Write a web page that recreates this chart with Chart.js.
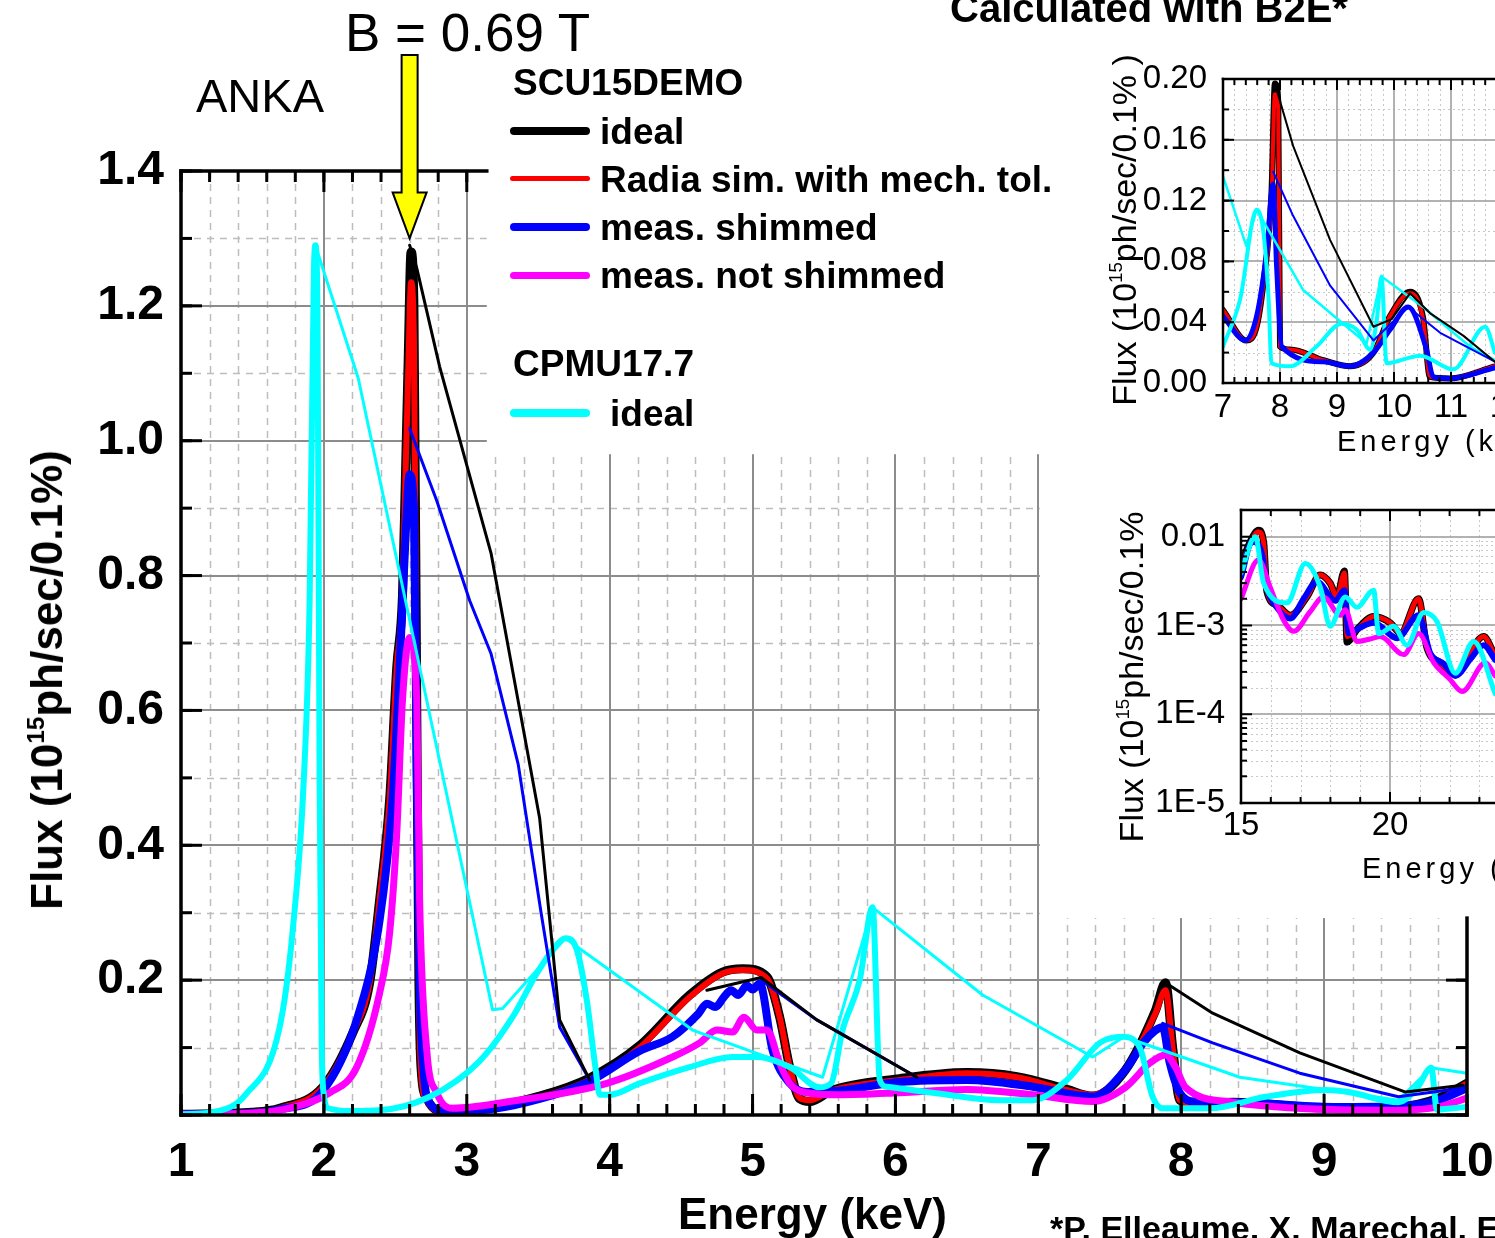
<!DOCTYPE html>
<html>
<head>
<meta charset="utf-8">
<script src="https://cdn.jsdelivr.net/npm/chart.js@4.4.1/dist/chart.umd.min.js"></script>
<style>
  body { margin: 0; background: #fff; overflow: hidden; }
  #wrap { position: relative; width: 1495px; height: 1238px; overflow: hidden; background: #fff;
          font-family: "Liberation Sans", Arial, sans-serif; color: #000; }
  canvas { position: absolute; }
  .t { position: absolute; white-space: nowrap; line-height: 1; }
  .b { font-weight: bold; }
  .lg { position: absolute; white-space: nowrap; line-height: 1; font-weight: bold; font-size: 37px; }
  .sw { position: absolute; left: 510px; width: 80px; }
  .rot { position: absolute; white-space: nowrap; line-height: 1; transform: translate(-50%, -50%) rotate(-90deg); }
  sup { font-size: 0.55em; vertical-align: 0.75em; line-height: 0; }
</style>
</head>
<body>
<div id="wrap">
  <canvas id="main" width="1495" height="1238" style="left:0;top:0"></canvas>
  <canvas id="insetTop" width="540" height="440" style="left:1095px;top:30px"></canvas>
  <canvas id="insetLog" width="600" height="430" style="left:1100px;top:470px"></canvas>

  <div class="t" style="left:345px;top:6px;font-size:53px">B = 0.69 T</div>
  <div class="t" style="left:196px;top:72px;font-size:47px">ANKA</div>
  <div class="t b" style="left:950px;top:-12px;font-size:40px">Calculated with B2E*</div>
  <div class="t b" style="left:1050px;top:1211px;font-size:34px">*P. Elleaume, X. Marechal, ESRF</div>

  <div class="lg" style="left:513px;top:64px">SCU15DEMO</div>
  <div class="sw" style="top:127px;height:8px;border-radius:4px;background:#000"></div>
  <div class="lg" style="left:600px;top:113px">ideal</div>
  <div class="sw" style="top:176px;height:5px;border-radius:3px;background:#ff0000"></div>
  <div class="lg" style="left:600px;top:161px">Radia sim. with mech. tol.</div>
  <div class="sw" style="top:223px;height:8px;border-radius:4px;background:#0000ff"></div>
  <div class="lg" style="left:600px;top:209px">meas. shimmed</div>
  <div class="sw" style="top:272px;height:7px;border-radius:4px;background:#ff00ff"></div>
  <div class="lg" style="left:600px;top:257px">meas. not shimmed</div>
  <div class="lg" style="left:513px;top:345px">CPMU17.7</div>
  <div class="sw" style="top:409px;height:8px;border-radius:4px;background:#00ffff"></div>
  <div class="lg" style="left:610px;top:395px">ideal</div>

  <div class="t b" style="left:678px;top:1192px;font-size:44px">Energy (keV)</div>
  <div class="rot b" style="left:47px;top:680px;font-size:44px">Flux (10<sup>15</sup>ph/sec/0.1%)</div>

  <div class="rot" style="left:1124px;top:230px;font-size:34px">Flux (10<sup>15</sup>ph/sec/0.1% )</div>
  <div class="t" style="left:1337px;top:427px;font-size:29px;letter-spacing:4px">Energy (keV)</div>
  <div class="rot" style="left:1131px;top:677px;font-size:34px">Flux (10<sup>15</sup>ph/sec/0.1%</div>
  <div class="t" style="left:1362px;top:854px;font-size:29px;letter-spacing:4px">Energy (keV)</div>
</div>

<script>
// ---- main panel: 1-10 keV, linear flux ----
const mainXTicks = [1, 2, 3, 4, 5, 6, 7, 8, 9, 10];
const mainYTicks = [0.2, 0.4, 0.6, 0.8, 1.0, 1.2, 1.4];

const scuE = [1.0, 1.5, 1.69, 1.99, 2.2, 2.32, 2.39, 2.46, 2.51, 2.55, 2.57, 2.59, 2.61, 2.63, 2.65,
  2.665, 2.68, 2.72, 2.81, 3.09, 3.51, 3.86, 4.21, 4.56, 4.79, 4.93, 5.1, 5.19, 5.26, 5.33,
  5.4, 5.56, 6.03, 6.5, 6.85, 7.2, 7.38, 7.61, 7.82, 7.89, 7.94, 7.99, 8.1, 8.36, 9.06, 9.52, 9.8, 10];
const scuIdealF = [0.001, 0.004, 0.01, 0.041, 0.121, 0.196, 0.319, 0.467, 0.664, 0.77, 0.94, 1.12, 1.28, 1.2, 0.6,
  0.2, 0.07, 0.025, 0.006, 0.009, 0.028, 0.055, 0.103, 0.178, 0.212, 0.217, 0.205, 0.145, 0.071, 0.024,
  0.02, 0.037, 0.054, 0.063, 0.057, 0.038, 0.028, 0.067, 0.155, 0.196, 0.1, 0.022, 0.016, 0.019, 0.01, 0.012, 0.025, 0.047];
const scuRadiaF = [0.001, 0.004, 0.01, 0.041, 0.121, 0.196, 0.319, 0.467, 0.664, 0.77, 0.94, 1.1, 1.235, 1.15, 0.58,
  0.19, 0.065, 0.022, 0.005, 0.008, 0.026, 0.052, 0.1, 0.175, 0.21, 0.215, 0.203, 0.145, 0.071, 0.025,
  0.022, 0.037, 0.052, 0.062, 0.056, 0.037, 0.03, 0.067, 0.151, 0.185, 0.1, 0.022, 0.016, 0.019, 0.01, 0.012, 0.022, 0.047];

const shimE = [1.0, 1.5, 1.69, 1.99, 2.23, 2.39, 2.48, 2.53, 2.57, 2.6, 2.63, 2.65, 2.67, 2.7, 2.74,
  2.85, 3.09, 3.51, 3.86, 4.21, 4.44, 4.62, 4.68, 4.74, 4.8, 4.85, 4.9, 4.96, 5.0, 5.05,
  5.14, 5.26, 5.38, 5.6, 6.03, 6.5, 6.96, 7.38, 7.61, 7.75, 7.87, 7.92, 7.99, 8.1, 8.36, 9.06, 9.52, 9.8, 10];
const shimF = [0.001, 0.003, 0.008, 0.035, 0.141, 0.289, 0.467, 0.664, 0.85, 0.95, 0.9, 0.5, 0.2, 0.06, 0.018,
  0.006, 0.007, 0.024, 0.05, 0.095, 0.116, 0.15, 0.165, 0.16, 0.175, 0.185, 0.178, 0.192, 0.186, 0.195,
  0.096, 0.047, 0.034, 0.036, 0.049, 0.052, 0.042, 0.027, 0.067, 0.111, 0.13, 0.077, 0.033, 0.02, 0.019, 0.012, 0.013, 0.022, 0.04];

const noShimE = [1.0, 1.5, 1.69, 2.04, 2.23, 2.39, 2.46, 2.51, 2.55, 2.6, 2.65, 2.67, 2.72, 2.79, 2.9,
  3.3, 3.98, 4.44, 4.63, 4.75, 4.86, 4.94, 5.03, 5.1, 5.19, 5.26, 5.38, 5.6, 6.03, 6.5,
  6.96, 7.38, 7.61, 7.78, 7.89, 7.96, 8.03, 8.36, 9.06, 9.52, 9.8, 10];
const noShimF = [0.001, 0.003, 0.007, 0.033, 0.071, 0.181, 0.27, 0.418, 0.615, 0.708, 0.615, 0.319, 0.096, 0.033, 0.01,
  0.02, 0.047, 0.086, 0.107, 0.126, 0.123, 0.145, 0.126, 0.126, 0.077, 0.047, 0.033, 0.03, 0.033, 0.038,
  0.03, 0.02, 0.041, 0.077, 0.089, 0.071, 0.041, 0.019, 0.008, 0.007, 0.012, 0.025];

const cpmuE = [1.0, 1.24, 1.45, 1.69, 1.78, 1.86, 1.9, 1.93, 1.94, 1.955, 1.97, 1.985, 2.0, 2.03, 2.2,
  2.39, 2.74, 3.09, 3.32, 3.49, 3.62, 3.69, 3.77, 3.84, 3.9, 3.93, 4.0, 4.21, 4.56, 4.86,
  5.03, 5.26, 5.47, 5.55, 5.63, 5.75, 5.84, 5.89, 5.94, 6.26, 6.73, 6.96, 7.2, 7.43, 7.59,
  7.71, 7.8, 7.87, 8.2, 8.59, 9.01, 9.17, 9.52, 9.65, 9.75, 9.79, 9.9, 10];
const cpmuF = [0.001, 0.005, 0.03, 0.13, 0.27, 0.5, 0.76, 1.25, 1.29, 1.2, 0.5, 0.1, 0.03, 0.01, 0.006,
  0.007, 0.027, 0.08, 0.145, 0.21, 0.25, 0.262, 0.245, 0.17, 0.071, 0.03, 0.03, 0.047, 0.071, 0.086,
  0.086, 0.071, 0.041, 0.047, 0.126, 0.2, 0.308, 0.052, 0.042, 0.033, 0.022, 0.022, 0.052, 0.107, 0.116,
  0.1, 0.027, 0.01, 0.01, 0.027, 0.037, 0.034, 0.019, 0.04, 0.07, 0.008, 0.01, 0.012];

// thin lines joining the harmonic maxima (null = gap)
const idealPeakE = [2.6, 2.65, 2.81, 3.17, 3.51, 3.65, 3.86, 4.2, 4.68, 5.06, 5.45, 6.15, 7.0, 7.89, 8.22, 8.83, 9.57, 9.97];
const idealPeakF = [1.29, 1.256, 1.11, 0.833, 0.44, 0.141, 0.052, null, 0.185, 0.204, 0.141, 0.056, null, 0.196, 0.151, 0.092, 0.034, 0.044];
const shimPeakE = [2.6, 2.79, 3.02, 3.17, 3.36, 3.52, 3.65, 3.86, 4.5, 5.06, 5.45, 6.15, 7.0, 7.87, 8.22, 8.83, 9.52, 9.97];
const shimPeakF = [1.018, 0.911, 0.763, 0.684, 0.52, 0.3, 0.13, 0.052, null, 0.2, 0.141, 0.056, null, 0.136, 0.107, 0.062, 0.027, 0.04];
const cpmuPeakE = [1.94, 2.24, 3.18, 3.25, 3.69, 4.58, 5.49, 5.84, 6.61, 7.38, 7.6, 8.41, 9.52, 9.75, 10];
const cpmuPeakF = [1.29, 1.093, 0.156, 0.158, 0.262, 0.126, 0.056, 0.308, 0.178, 0.086, 0.116, 0.056, 0.022, 0.07, 0.062];

const arrowAt = { x: 2.6, y: 1.3 };

// ---- upper inset: 7-12 keV ----
const topXTicks = [7, 8, 9, 10, 11, 12, 13, 14];
const topYTicks = [0, 0.04, 0.08, 0.12, 0.16, 0.2];
const topScuE = [7.0, 7.41, 7.59, 7.71, 7.85, 7.91, 7.97, 8.0, 8.18, 8.76, 9.23, 9.64, 9.93, 10.28, 10.51, 10.63, 10.98, 11.77];
const topIdealF = [0.048, 0.028, 0.037, 0.066, 0.125, 0.197, 0.185, 0.024, 0.022, 0.015, 0.011, 0.02, 0.044, 0.06, 0.043, 0.004, 0.003, 0.011];
const topRadiaF = [0.048, 0.028, 0.037, 0.066, 0.12, 0.19, 0.18, 0.024, 0.022, 0.015, 0.011, 0.02, 0.044, 0.059, 0.042, 0.004, 0.003, 0.011];
const topShimE = [7.0, 7.39, 7.59, 7.77, 7.88, 7.94, 8.03, 8.76, 9.23, 9.64, 9.93, 10.25, 10.57, 10.69, 10.98, 11.77];
const topShimF = [0.044, 0.028, 0.044, 0.088, 0.131, 0.077, 0.024, 0.014, 0.011, 0.02, 0.035, 0.05, 0.022, 0.004, 0.003, 0.01];
const topCpmuE = [7.0, 7.3, 7.59, 7.71, 7.8, 7.85, 8.18, 8.64, 9.08, 9.35, 9.58, 9.7, 9.78, 9.87, 10.46, 11.04, 11.6, 11.77];
const topCpmuF = [0.024, 0.055, 0.114, 0.099, 0.055, 0.013, 0.011, 0.024, 0.039, 0.035, 0.022, 0.042, 0.07, 0.013, 0.018, 0.009, 0.037, 0.02];
const topIdealPeakE = [7.91, 8.23, 8.88, 9.64, 9.96, 10.28, 10.63, 11.22, 11.77];
const topIdealPeakF = [0.197, 0.156, 0.094, 0.037, 0.042, 0.059, 0.046, 0.031, 0.014];
const topShimPeakE = [7.88, 8.23, 8.88, 9.64, 10.25, 10.81, 11.77];
const topShimPeakF = [0.139, 0.11, 0.064, 0.028, 0.05, 0.033, 0.014];
const topCpmuPeakE = [7.0, 7.41, 7.59, 8.41, 9.52, 9.78, 10.51, 11.33, 11.77];
const topCpmuPeakF = [0.136, 0.09, 0.114, 0.061, 0.026, 0.07, 0.05, 0.024, 0.015];

// ---- lower inset: 15-25 keV, log flux ----
const logXTicks = [15, 20, 25, 30];
const logYTicks = [1e-5, 1e-4, 1e-3, 1e-2];
const logYLabels = ['1E-5', '1E-4', '1E-3', '0.01'];
const logScuE = [15, 15.31, 15.59, 15.76, 15.87, 16.21, 16.66, 17.21, 17.66, 17.99, 18.22, 18.47, 18.56,
  18.89, 19.45, 20.01, 20.35, 20.96, 21.24, 21.69, 22.19, 23.14, 23.53];
const logIdealF = [0.0048, 0.0088, 0.0118, 0.0086, 0.0024, 0.0017, 0.0013, 0.0021, 0.0037, 0.003, 0.0021, 0.0041, 0.00065,
  0.0009, 0.00126, 0.00107, 0.00082, 0.002, 0.00056, 0.00038, 0.00028, 0.00075, 0.00045];
const logRadiaF = [0.0046, 0.0084, 0.0114, 0.0084, 0.0025, 0.0017, 0.0013, 0.0021, 0.0037, 0.003, 0.0021, 0.0039, 0.00075,
  0.0009, 0.00126, 0.00107, 0.00082, 0.002, 0.00058, 0.00038, 0.00028, 0.00075, 0.00045];
const logShimE = [15, 15.37, 15.7, 15.87, 16.2, 16.66, 17.1, 17.55, 18.17, 18.47, 18.61, 19.0, 19.45, 20.24,
  20.96, 21.35, 21.8, 22.19, 22.7, 23.14, 23.53];
const logShimF = [0.0035, 0.0088, 0.0065, 0.0027, 0.0016, 0.0012, 0.002, 0.0031, 0.0019, 0.0025, 0.00082, 0.00095, 0.00107, 0.00072,
  0.0013, 0.00049, 0.00037, 0.00027, 0.00042, 0.0006, 0.00041];
const logNoShimE = [15, 15.59, 15.98, 16.4, 16.77, 17.3, 17.77, 18.33, 18.5, 18.89, 19.3, 19.67, 20.46, 20.96,
  21.47, 22.0, 22.42, 23.2, 23.53];
const logNoShimF = [0.002, 0.0055, 0.0027, 0.0012, 0.00086, 0.0014, 0.0021, 0.0013, 0.0015, 0.00066, 0.0007, 0.00075, 0.00047, 0.00081,
  0.00038, 0.00025, 0.00018, 0.00038, 0.00027];
const logCpmuE = [15, 15.48, 15.76, 16.54, 17.16, 17.66, 17.99, 18.5, 18.89, 19.45, 19.62, 20.12, 20.57, 21.13,
  21.58, 22.19, 22.81, 23.53];
const logCpmuF = [0.0039, 0.01, 0.003, 0.0018, 0.005, 0.0027, 0.00098, 0.0021, 0.0016, 0.0025, 0.00081, 0.00098, 0.0006, 0.0014,
  0.0011, 0.00029, 0.00066, 0.00017];

const FONT = '"Liberation Sans", Arial, sans-serif';
const BLACK = '#000000', RED = '#ff0000', BLUE = '#0000ff', MAGENTA = '#ff00ff', CYAN = '#00ffff';

const range = (a, b, step) =>
  Array.from({ length: Math.round((b - a) / step) + 1 }, (_, i) => +(a + i * step).toFixed(6));
const pts = (xs, ys) => xs.map((x, i) => ({ x, y: ys[i] }));

function curve(xs, ys, color, width, smooth) {
  return {
    data: pts(xs, ys),
    borderColor: color,
    borderWidth: width,
    pointRadius: 0,
    fill: false,
    spanGaps: false,
    tension: 0,
    cubicInterpolationMode: smooth ? 'monotone' : 'default',
    borderJoinStyle: 'round',
    borderCapStyle: 'round',
  };
}

// grid, white masks, axes with inward ticks
function framePlugin(f) {
  return {
    id: 'frame',
    beforeDraw(chart) {
      if (!f.opaque) return;
      const ctx = chart.ctx;
      ctx.save();
      ctx.fillStyle = '#fff';
      ctx.fillRect(0, 0, chart.width, chart.height);
      ctx.restore();
    },
    beforeDatasetsDraw(chart) {
      const { ctx, chartArea: a, scales: { x, y } } = chart;
      const seg = (x1, y1, x2, y2) => { ctx.beginPath(); ctx.moveTo(x1, y1); ctx.lineTo(x2, y2); ctx.stroke(); };
      ctx.save();
      ctx.beginPath();
      ctx.rect(a.left, a.top, a.right - a.left, a.bottom - a.top);
      ctx.clip();
      ctx.strokeStyle = f.minorColor;
      ctx.lineWidth = f.minorWidth;
      ctx.setLineDash(f.minorDash);
      f.gridXMinor.forEach((v) => { const p = Math.round(x.getPixelForValue(v)) + 0.5; seg(p, a.top, p, a.bottom); });
      f.gridYMinor.forEach((v) => { const p = Math.round(y.getPixelForValue(v)) + 0.5; seg(a.left, p, a.right, p); });
      ctx.setLineDash([]);
      ctx.strokeStyle = f.majorColor;
      ctx.lineWidth = f.majorWidth;
      f.gridXMajor.forEach((v) => { const p = Math.round(x.getPixelForValue(v)); seg(p, a.top, p, a.bottom); });
      f.gridYMajor.forEach((v) => { const p = Math.round(y.getPixelForValue(v)); seg(a.left, p, a.right, p); });
      ctx.fillStyle = '#fff';
      (f.masks || []).forEach((m) => {
        const x0 = x.getPixelForValue(m.x0), x1 = x.getPixelForValue(m.x1);
        const y0 = y.getPixelForValue(m.y1), y1 = y.getPixelForValue(m.y0);
        ctx.fillRect(x0, y0 - 2, x1 - x0 + 4, y1 - y0 + 2);
      });
      ctx.restore();
    },
    afterDatasetsDraw(chart) {
      const { ctx, chartArea: a, scales: { x, y } } = chart;
      const seg = (x1, y1, x2, y2) => { ctx.beginPath(); ctx.moveTo(x1, y1); ctx.lineTo(x2, y2); ctx.stroke(); };
      const topEnd = f.topEnd != null ? x.getPixelForValue(f.topEnd) : a.right;
      const rightFrom = f.rightFrom != null ? y.getPixelForValue(f.rightFrom) : a.top;
      ctx.save();
      ctx.strokeStyle = '#000';
      ctx.lineWidth = f.tickWidth;
      const ticksX = (list, len) => list.forEach((v) => {
        const p = x.getPixelForValue(v);
        seg(p, a.bottom, p, a.bottom - len);
        if (p <= topEnd + 1) seg(p, a.top, p, a.top + len);
      });
      const ticksY = (list, len) => list.forEach((v) => {
        const p = y.getPixelForValue(v);
        seg(a.left, p, a.left + len, p);
        if (f.right && p >= rightFrom - 1) seg(a.right, p, a.right - len, p);
      });
      ticksX(f.tickXMinor, f.minorLen);
      ticksX(f.tickXMajor, f.majorLen);
      ticksY(f.tickYMinor, f.minorLen);
      ticksY(f.tickYMajor, f.majorLen);
      ctx.lineWidth = f.axisWidth;
      ctx.lineCap = 'square';
      seg(a.left, a.top, a.left, a.bottom);
      seg(a.left, a.bottom, a.right, a.bottom);
      seg(a.left, a.top, topEnd, a.top);
      if (f.right) seg(a.right, rightFrom, a.right, a.bottom);
      ctx.restore();
    },
  };
}

const arrowPlugin = {
  id: 'arrow',
  afterDraw(chart) {
    const { ctx, scales: { x, y } } = chart;
    const cx = x.getPixelForValue(arrowAt.x);
    const tip = y.getPixelForValue(arrowAt.y);
    ctx.save();
    ctx.beginPath();
    ctx.moveTo(cx - 8, 55);
    ctx.lineTo(cx + 8, 55);
    ctx.lineTo(cx + 8, tip - 46);
    ctx.lineTo(cx + 17, tip - 46);
    ctx.lineTo(cx, tip);
    ctx.lineTo(cx - 17, tip - 46);
    ctx.lineTo(cx - 8, tip - 46);
    ctx.closePath();
    ctx.fillStyle = '#ffff00';
    ctx.fill();
    ctx.lineWidth = 2;
    ctx.strokeStyle = '#000';
    ctx.stroke();
    ctx.restore();
  },
};

function baseOptions(o) {
  return {
    responsive: false,
    animation: false,
    devicePixelRatio: 1,
    layout: { autoPadding: false, padding: o.padding },
    plugins: { legend: { display: false }, tooltip: { enabled: false } },
    elements: { point: { radius: 0 } },
    scales: {
      x: {
        type: 'linear', min: o.xMin, max: o.xMax,
        grid: { display: false }, border: { display: false },
        afterBuildTicks: (s) => { s.ticks = o.xTicks.map((v) => ({ value: v })); },
        afterFit: (s) => { s.height = o.xHeight; s.paddingLeft = 0; s.paddingRight = 0; },
        ticks: { color: '#000', maxRotation: 0, autoSkip: false, padding: o.xPad, font: o.font },
      },
      y: {
        type: o.yType || 'linear', min: o.yMin, max: o.yMax,
        grid: { display: false }, border: { display: false },
        afterBuildTicks: (s) => { s.ticks = o.yTicks.map((v) => ({ value: v })); },
        afterFit: (s) => { s.width = o.yWidth; s.paddingTop = 0; s.paddingBottom = 0; },
        ticks: { color: '#000', autoSkip: false, padding: o.yPad, font: o.font, callback: o.yLabel },
      },
    },
  };
}

// main chart (first dataset is drawn on top)
new Chart(document.getElementById('main'), {
  type: 'line',
  data: {
    datasets: [
      curve(idealPeakE, idealPeakF, BLACK, 3, false),
      curve(shimPeakE, shimPeakF, BLUE, 3, false),
      curve(cpmuPeakE, cpmuPeakF, CYAN, 3, false),
      curve(cpmuE, cpmuF, CYAN, 6, true),
      curve(noShimE, noShimF, MAGENTA, 7, true),
      curve(shimE, shimF, BLUE, 8, true),
      curve(scuE, scuRadiaF, RED, 6, true),
      curve(scuE, scuIdealF, BLACK, 9, true),
    ],
  },
  options: baseOptions({
    padding: { left: 0, top: 171, right: 28, bottom: 0 },
    xMin: 1, xMax: 10, yMin: 0, yMax: 1.4,
    xTicks: mainXTicks, yTicks: mainYTicks,
    xHeight: 123, yWidth: 181, xPad: 11, yPad: 9,
    font: { family: FONT, size: 48, weight: 'bold' },
    yLabel: (v) => v.toFixed(1),
  }),
  plugins: [
    framePlugin({
      gridXMinor: range(1, 10, 0.2).filter((v) => v % 1 !== 0),
      gridXMajor: range(2, 9, 1),
      gridYMinor: range(0.1, 1.3, 0.2),
      gridYMajor: range(0.2, 1.2, 0.2),
      minorColor: '#bdbdbd', minorWidth: 1.5, minorDash: [7, 6],
      majorColor: '#8c8c8c', majorWidth: 2,
      masks: [{ x0: 3.14, x1: 10, y0: 0.98, y1: 1.4 }, { x0: 7.01, x1: 10, y0: 0.292, y1: 0.98 }],
      topEnd: 3.14, rightFrom: 0.292, right: true,
      tickXMinor: range(1, 10, 0.2), tickXMajor: range(1, 10, 1),
      tickYMinor: range(0, 1.4, 0.1), tickYMajor: range(0, 1.4, 0.2),
      minorLen: 11, majorLen: 21, tickWidth: 3, axisWidth: 3.5,
    }),
    arrowPlugin,
  ],
});

// upper inset
new Chart(document.getElementById('insetTop'), {
  type: 'line',
  data: {
    datasets: [
      curve(topIdealPeakE, topIdealPeakF, BLACK, 2, false),
      curve(topShimPeakE, topShimPeakF, BLUE, 2, false),
      curve(topCpmuPeakE, topCpmuPeakF, CYAN, 2.5, false),
      curve(topCpmuE, topCpmuF, CYAN, 4, true),
      curve(topShimE, topShimF, BLUE, 5, true),
      curve(topScuE, topRadiaF, RED, 4, true),
      curve(topScuE, topIdealF, BLACK, 6, true),
    ],
  },
  options: baseOptions({
    padding: { left: 0, top: 49, right: 13, bottom: 0 },
    xMin: 7, xMax: 14, yMin: 0, yMax: 0.2,
    xTicks: topXTicks, yTicks: topYTicks,
    xHeight: 87, yWidth: 128, xPad: -3, yPad: 8,
    font: { family: FONT, size: 33 },
    yLabel: (v) => v.toFixed(2),
  }),
  plugins: [
    framePlugin({
      opaque: true,
      gridXMinor: range(7, 14, 0.2).filter((v) => v % 1 !== 0),
      gridXMajor: range(8, 13, 1),
      gridYMinor: range(0.02, 0.18, 0.04),
      gridYMajor: range(0.04, 0.16, 0.04),
      minorColor: '#c8c8c8', minorWidth: 1, minorDash: [2, 3],
      majorColor: '#999999', majorWidth: 1.5,
      tickXMinor: range(7, 14, 0.2), tickXMajor: range(7, 14, 1),
      tickYMinor: range(0, 0.2, 0.02), tickYMajor: range(0, 0.2, 0.04),
      minorLen: 6, majorLen: 11, tickWidth: 2, axisWidth: 2.5,
    }),
  ],
});

// lower inset (log)
new Chart(document.getElementById('insetLog'), {
  type: 'line',
  data: {
    datasets: [
      curve(logCpmuE, logCpmuF, CYAN, 5, true),
      curve(logNoShimE, logNoShimF, MAGENTA, 5, true),
      curve(logShimE, logShimF, BLUE, 6, true),
      curve(logScuE, logRadiaF, RED, 5, true),
      curve(logScuE, logIdealF, BLACK, 7, true),
    ],
  },
  options: baseOptions({
    padding: { left: 0, top: 40, right: 12, bottom: 0 },
    xMin: 15, xMax: 30, yMin: 1e-5, yMax: 0.02, yType: 'logarithmic',
    xTicks: logXTicks, yTicks: logYTicks,
    xHeight: 97, yWidth: 141, xPad: -5, yPad: 8,
    font: { family: FONT, size: 33 },
    yLabel: (v) => logYLabels[logYTicks.findIndex((t) => Math.abs(Math.log10(t) - Math.log10(v)) < 1e-6)],
  }),
  plugins: [
    framePlugin({
      opaque: true,
      gridXMinor: range(15, 30, 1).filter((v) => v % 5 !== 0),
      gridXMajor: [20, 25],
      gridYMinor: [-5, -4, -3].flatMap((d) => [2, 3, 4, 5, 6, 7, 8, 9].map((k) => k * Math.pow(10, d))),
      gridYMajor: [1e-4, 1e-3, 1e-2],
      minorColor: '#c8c8c8', minorWidth: 1, minorDash: [2, 3],
      majorColor: '#999999', majorWidth: 1.5,
      tickXMinor: range(15, 30, 1), tickXMajor: range(15, 30, 5),
      tickYMinor: [-5, -4, -3].flatMap((d) => [2, 3, 4, 5, 6, 7, 8, 9].map((k) => k * Math.pow(10, d))),
      tickYMajor: logYTicks,
      minorLen: 6, majorLen: 11, tickWidth: 2, axisWidth: 2.5,
    }),
  ],
});
</script>
</body>
</html>
